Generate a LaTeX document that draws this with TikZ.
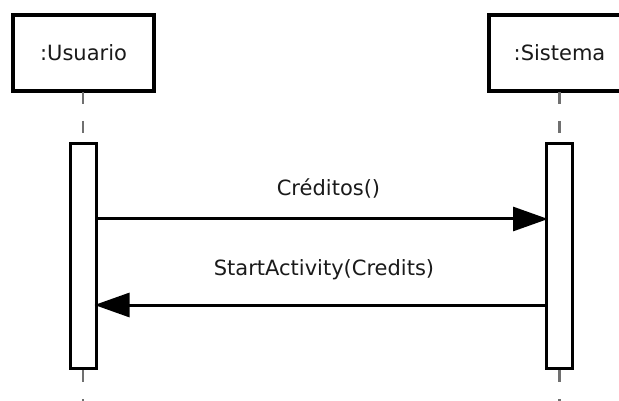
\documentclass[tikz,border=0pt]{standalone}
\usepackage{fontspec}
\setmainfont{DejaVu Sans}
\usetikzlibrary{arrows.meta}
\definecolor{lifegray}{HTML}{707070}
\definecolor{txt}{HTML}{1A1A1A}
\tikzset{
  objbox/.style={draw=black, line width=3.5pt, fill=white, minimum width=141pt, minimum height=76pt, inner sep=0pt, text=txt, font=\fontsize{21}{25}\selectfont},
  actbox/.style={draw=black, line width=3pt, fill=white, minimum width=26pt, minimum height=225pt, inner sep=0pt},
  lifeline/.style={draw=lifegray, line width=2.5pt, dash pattern=on 12pt off 17pt},
  msg/.style={draw=black, line width=3pt, -{Triangle[length=35pt,width=24pt]}},
  msglabel/.style={font=\fontsize{21}{25}\selectfont, text=txt, inner sep=0pt}
}
\begin{document}
\begin{tikzpicture}[x=1pt,y=-1pt]
\clip (0,0) rectangle (619,401);
\fill[white] (0,0) rectangle (619,401);
% lifelines
\coordinate (uend) at (83,401);
\coordinate (send) at (559.5,401);
\node[objbox] (u) at (83.5,53) {:Usuario};
\node[objbox] (s) at (559.5,53) {:Sistema};
\node[actbox] (ua) at (83,256) {};
\node[actbox] (sa) at (559.5,256) {};
\draw[lifeline] (83,92) -- (83,143);
\draw[lifeline] (559.5,92) -- (559.5,143);
\draw[lifeline] (83,370) -- (uend);
\draw[lifeline] (559.5,370) -- (send);
% messages
\draw[msg] (ua.east |- 0,219) -- ([xshift=3pt]sa.west |- 0,219);
\draw[msg] (sa.west |- 0,305) -- ([xshift=-3pt]ua.east |- 0,305);
\node[msglabel] (l1) at (328.5,188) {Créditos()};
\node[msglabel] (l2) at (324,270) {StartActivity(Credits)};
\end{tikzpicture}
\end{document}
